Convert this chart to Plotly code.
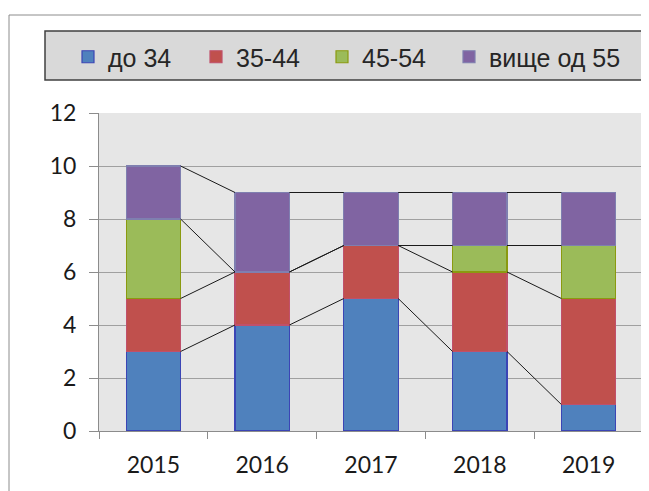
import plotly.graph_objects as go

years = ["2015", "2016", "2017", "2018", "2019"]
names = ["до 34", "35-44", "45-54", "вище од 55"]
do_34 = [3, 4, 5, 3, 1]
v35_44 = [2, 2, 2, 3, 4]
v45_54 = [3, 0, 0, 1, 2]
vyshe_55 = [2, 3, 2, 2, 2]

series = [do_34, v35_44, v45_54, vyshe_55]
fills = ["#4f81bd", "#c0504d", "#9bbb59", "#8064a2"]
edges = ["#3b45b5", "#c0506a", "#8a9a10", "#7f7fb0"]
legend_ids = ["legend", "legend2", "legend3", "legend4"]

fig = go.Figure()

for name, vals, fc, ec, lg in zip(names, series, fills, edges, legend_ids):
    fig.add_trace(go.Bar(
        x=years, y=vals, name=name, legend=lg,
        marker=dict(color=fc, line=dict(color=ec, width=1.2)),
    ))

# series lines between bars, at the top of each cumulative segment
cum = [0] * len(years)
half = 0.25
for vals in series:
    cum = [c + v for c, v in zip(cum, vals)]
    xs, ys = [], []
    for i in range(len(years) - 1):
        xs += [i + half, i + 1 - half, None]
        ys += [cum[i], cum[i + 1], None]
    fig.add_trace(go.Scatter(
        x=xs, y=ys, xaxis="x2", mode="lines",
        line=dict(color="#1a1a1a", width=1), showlegend=False, hoverinfo="skip",
    ))

# page is shown with an 8px body margin, so figure coords = page coords - 8
W, H = 641, 483
L, R, T, B = 91, 6, 105, 60
pw, ph = W - L - R, H - T - B

def px(x):
    return (x - 8 - L) / pw

def py(y):
    return (H - B - (y - 8)) / ph

legend_font = dict(family="Liberation Sans, Arial", size=25, color="#262626")
legend_x = [68, 196, 322, 449]
legends = {}
for lg, lx in zip(legend_ids, legend_x):
    legends[lg] = dict(
        orientation="h", x=px(lx), y=py(57), xanchor="left", yanchor="middle",
        bgcolor="rgba(0,0,0,0)", font=legend_font, itemwidth=30,
    )

fig.update_layout(
    width=W, height=H,
    margin=dict(l=L, r=R, t=T, b=B, autoexpand=False),
    barmode="stack", bargap=0.5,
    paper_bgcolor="white", plot_bgcolor="#e6e6e6",
    font=dict(family="Lato, Liberation Sans, sans-serif", size=23, color="#1a1a1a"),
    xaxis=dict(
        type="category", tickson="boundaries", ticks="outside", ticklen=7,
        tickcolor="#8c8c8c", showline=True, linecolor="#8c8c8c", linewidth=1,
        showgrid=False, ticklabelstandoff=13,
    ),
    xaxis2=dict(overlaying="x", range=[-0.5, 4.5], visible=False),
    yaxis=dict(
        range=[0, 12], dtick=2, ticks="outside", ticklen=9, tickcolor="#8c8c8c",
        showline=True, linecolor="#8c8c8c", linewidth=1,
        gridcolor="#a0a0a0", gridwidth=1, zeroline=False, ticklabelstandoff=8,
    ),
    shapes=[
        dict(type="rect", xref="paper", yref="paper",
             x0=px(9), x1=px(700), y0=py(560), y1=py(15),
             line=dict(color="#8c8c8c", width=1), fillcolor="rgba(0,0,0,0)", layer="below"),
        dict(type="rect", xref="paper", yref="paper",
             x0=px(45), x1=px(700), y0=py(80), y1=py(31),
             line=dict(color="#404040", width=1.5), fillcolor="#d9d9d9", layer="below"),
    ],
    **legends,
)

fig.write_html("out.html")
